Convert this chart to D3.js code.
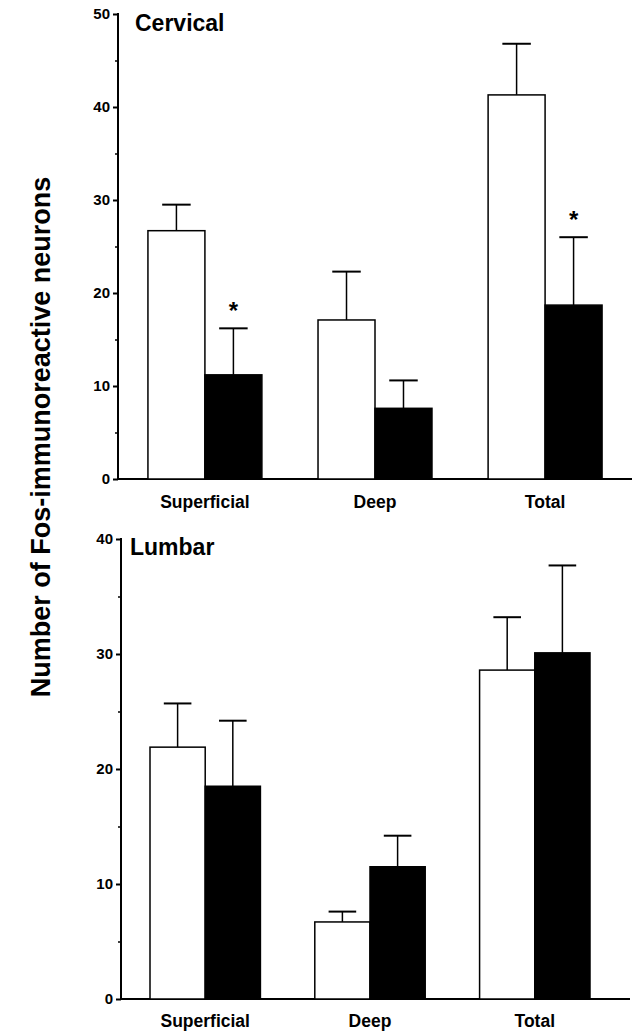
<!DOCTYPE html>
<meta charset="utf-8">
<script src="https://d3js.org/d3.v7.min.js"></script>
<style>
body { margin: 0; background: #fff; }
text { font-family: "Liberation Sans", Arial, sans-serif; font-weight: bold; fill: #000; }
.tick text { font-size: 15px; }
</style>
<div id="chart"></div>
<script>
// data
var groups = ["Superficial", "Deep", "Total"];
var series = ["control", "treated"];

var cervicalMean = [[26.7, 11.2], [17.1, 7.6], [41.3, 18.7]];
var cervicalErr  = [[29.5, 16.2], [22.3, 10.6], [46.8, 26.0]];
var cervicalStar = [[false, true], [false, false], [false, true]];

var lumbarMean = [[21.9, 18.5], [6.7, 11.5], [28.6, 30.1]];
var lumbarErr  = [[25.7, 24.2], [7.6, 14.2], [33.2, 37.7]];
var lumbarStar = [[false, false], [false, false], [false, false]];

var cervicalTicks = [0, 10, 20, 30, 40, 50];
var lumbarTicks = [0, 10, 20, 30, 40];

var svg = d3.select("#chart").append("svg")
  .attr("width", 633).attr("height", 1032);

// y axis title
svg.append("text")
  .attr("transform", "translate(50,437) rotate(-90)")
  .attr("text-anchor", "middle")
  .style("font-size", "27px")
  .text("Number of Fos-immunoreactive neurons");

function panel(p) {
  var g = svg.append("g");
  var y = d3.scaleLinear().domain([0, p.max]).range([p.y0, p.y1]);
  var x = d3.scaleBand().domain(groups).range([p.x0, p.x1])
    .paddingInner(0.33).paddingOuter(0.176);
  var xs = d3.scaleBand().domain(series).range([0, x.bandwidth()]);

  // y axis with major ticks and minor ticks
  var ax = g.append("g").attr("transform", "translate(" + p.x0 + ",0)")
    .call(d3.axisLeft(y).tickValues(p.ticks).tickSize(5).tickPadding(3));
  ax.select(".domain").remove();
  ax.selectAll("line").attr("stroke-width", 2);
  ax.attr("font-family", null).attr("font-size", 15);
  g.append("g").attr("transform", "translate(" + p.x0 + ",0)")
    .call(d3.axisLeft(y).tickValues(d3.range(5, p.max, 10)).tickSize(3).tickFormat(""))
    .call(function (s) { s.select(".domain").remove(); s.selectAll("line").attr("stroke-width", 1.5); });

  g.append("line").attr("x1", p.x0).attr("x2", p.x0)
    .attr("y1", y(p.max) - 1).attr("y2", y(0) + 1)
    .attr("stroke", "#000").attr("stroke-width", 2);
  g.append("line").attr("x1", p.x0).attr("x2", p.xEnd)
    .attr("y1", y(0)).attr("y2", y(0))
    .attr("stroke", "#000").attr("stroke-width", 2);

  groups.forEach(function (grp, i) {
    series.forEach(function (s, j) {
      var bx = x(grp) + xs(s), bw = xs.bandwidth(), cx = bx + bw / 2;
      var v = p.mean[i][j], e = p.err[i][j];
      g.append("line").attr("x1", cx).attr("x2", cx)
        .attr("y1", y(v)).attr("y2", y(e))
        .attr("stroke", "#000").attr("stroke-width", 1.5);
      g.append("line").attr("x1", cx - bw / 4).attr("x2", cx + bw / 4)
        .attr("y1", y(e)).attr("y2", y(e))
        .attr("stroke", "#000").attr("stroke-width", 2);
      g.append("rect").attr("x", bx).attr("width", bw)
        .attr("y", y(v)).attr("height", y(0) - y(v))
        .attr("fill", j === 0 ? "#fff" : "#000")
        .attr("stroke", "#000").attr("stroke-width", 1.5);
      if (p.star[i][j]) {
        g.append("text").attr("x", cx).attr("y", y(e) - 9)
          .attr("text-anchor", "middle").style("font-size", "24px").text("*");
      }
    });
    g.append("text").attr("x", x(grp) + x.bandwidth() / 2).attr("y", p.labelY)
      .attr("text-anchor", "middle").style("font-size", "17.5px").text(grp);
  });

  g.append("text").attr("x", p.x0 + p.titleDx).attr("y", p.titleY)
    .style("font-size", "23px").text(p.title);
}

panel({ title: "Cervical", max: 50, ticks: cervicalTicks, mean: cervicalMean, err: cervicalErr, star: cervicalStar,
  y0: 479, y1: 14, x0: 118, x1: 632, xEnd: 632, labelY: 508, titleDx: 17, titleY: 31 });
panel({ title: "Lumbar", max: 40, ticks: lumbarTicks, mean: lumbarMean, err: lumbarErr, star: lumbarStar,
  y0: 999, y1: 539, x0: 121, x1: 619, xEnd: 630, labelY: 1027, titleDx: 9, titleY: 555 });
</script>
